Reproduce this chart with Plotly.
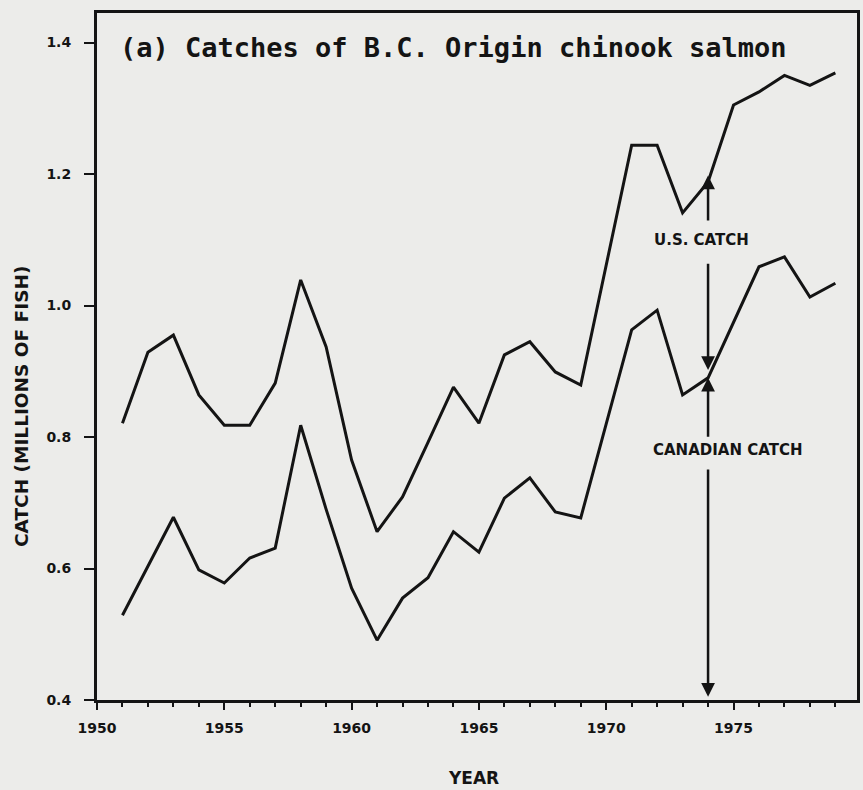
import plotly.graph_objects as go

years = list(range(1951, 1980))
total_catch = [0.821, 0.929, 0.955, 0.864, 0.818, 0.818, 0.882, 1.039, 0.937, 0.765,
               0.656, 0.709, 0.792, 0.876, 0.821, 0.925, 0.945, 0.899, 0.879, 1.060,
               1.244, 1.244, 1.141, 1.188, 1.305, 1.325, 1.350, 1.335, 1.354]
canadian_catch = [0.529, 0.603, 0.678, 0.598, 0.578, 0.616, 0.631, 0.818, 0.690, 0.570,
                  0.491, 0.555, 0.586, 0.656, 0.625, 0.707, 0.738, 0.686, 0.677, 0.820,
                  0.963, 0.993, 0.864, 0.890, 0.975, 1.059, 1.074, 1.013, 1.034]
x_ticks = [1950, 1955, 1960, 1965, 1970, 1975]
y_ticks = [0.4, 0.6, 0.8, 1.0, 1.2, 1.4]
y_tick_text = ["0.4", "0.6", "0.8", "1.0", "1.2", "1.4"]

title_text = "(a) Catches of B.C. Origin chinook salmon"
us_label = "U.S. CATCH"
can_label = "CANADIAN CATCH"
arrow_year = 1974

INK = "#141414"
BG = "#ececea"
LBL_FONT = dict(family="DejaVu Sans", size=14, color=INK, weight="bold")
ANN_FONT = dict(family="DejaVu Sans", size=15, color=INK, weight="bold")

fig = go.Figure()
fig.add_trace(go.Scatter(x=years, y=total_catch, mode="lines",
                         line=dict(color=INK, width=3), showlegend=False))
fig.add_trace(go.Scatter(x=years, y=canadian_catch, mode="lines",
                         line=dict(color=INK, width=3), showlegend=False))

i74 = years.index(arrow_year)
top_v = total_catch[i74]
mid_v = canadian_catch[i74]

def arrow(y_from, y_to):
    fig.add_annotation(x=arrow_year, y=y_to, ax=arrow_year, ay=y_from,
                       xref="x", yref="y", axref="x", ayref="y",
                       text="", showarrow=True, arrowhead=2, arrowsize=1.1,
                       arrowwidth=2.5, arrowcolor=INK)

arrow(1.127, top_v + 0.01)
arrow(1.066, mid_v + 0.012)
arrow(0.798, mid_v)
arrow(0.753, 0.405)

fig.add_annotation(x=1973.75, y=1.10, xref="x", yref="y", text=us_label,
                   showarrow=False, font=ANN_FONT)
fig.add_annotation(x=1974.77, y=0.78, xref="x", yref="y", text=can_label,
                   showarrow=False, font=ANN_FONT)
fig.add_annotation(x=1950.82, y=1.392, xref="x", yref="y", text=title_text,
                   showarrow=False, xanchor="left", yanchor="middle",
                   font=dict(family="DejaVu Sans Mono", size=27, color=INK,
                             weight="bold"))

fig.add_annotation(x=-0.0996, y=0.427, xref="paper", yref="paper",
                   xanchor="center", yanchor="middle",
                   text="CATCH (MILLIONS OF FISH)", textangle=-90, showarrow=False,
                   font=dict(family="DejaVu Sans", size=18.5, color=INK, weight="bold"))
fig.add_annotation(x=(475 - 97) / 763, y=-0.113, xref="paper", yref="paper",
                   text="YEAR", showarrow=False, xanchor="center", yanchor="middle",
                   font=dict(family="DejaVu Sans", size=17, color=INK, weight="bold"))

fig.update_xaxes(range=[1950, 1979.85], tickvals=x_ticks, ticks="outside", ticklen=7,
                 tickwidth=2, tickcolor=INK, showline=True, linewidth=3, linecolor=INK,
                 mirror=True, showgrid=False, zeroline=False, tickfont=LBL_FONT,
                 ticklabelstandoff=6,
                 minor=dict(dtick=1, ticks="outside", ticklen=4, tickwidth=1.5,
                            tickcolor=INK, showgrid=False))
fig.update_yaxes(range=[0.4, 1.445], tickvals=y_ticks, ticktext=y_tick_text,
                 ticks="outside", ticklen=10, tickwidth=2, tickcolor=INK,
                 showline=True, linewidth=3, linecolor=INK, mirror=True,
                 showgrid=False, zeroline=False, tickfont=LBL_FONT, ticklabelstandoff=10)

fig.update_layout(width=863, height=790, margin=dict(l=97, r=3, t=13, b=90),
                  paper_bgcolor=BG, plot_bgcolor=BG, showlegend=False)

fig.write_html("out.html", config={"displayModeBar": False},
               post_script="document.body.style.margin='0px';"
                           "document.body.style.background='#ececea';")
